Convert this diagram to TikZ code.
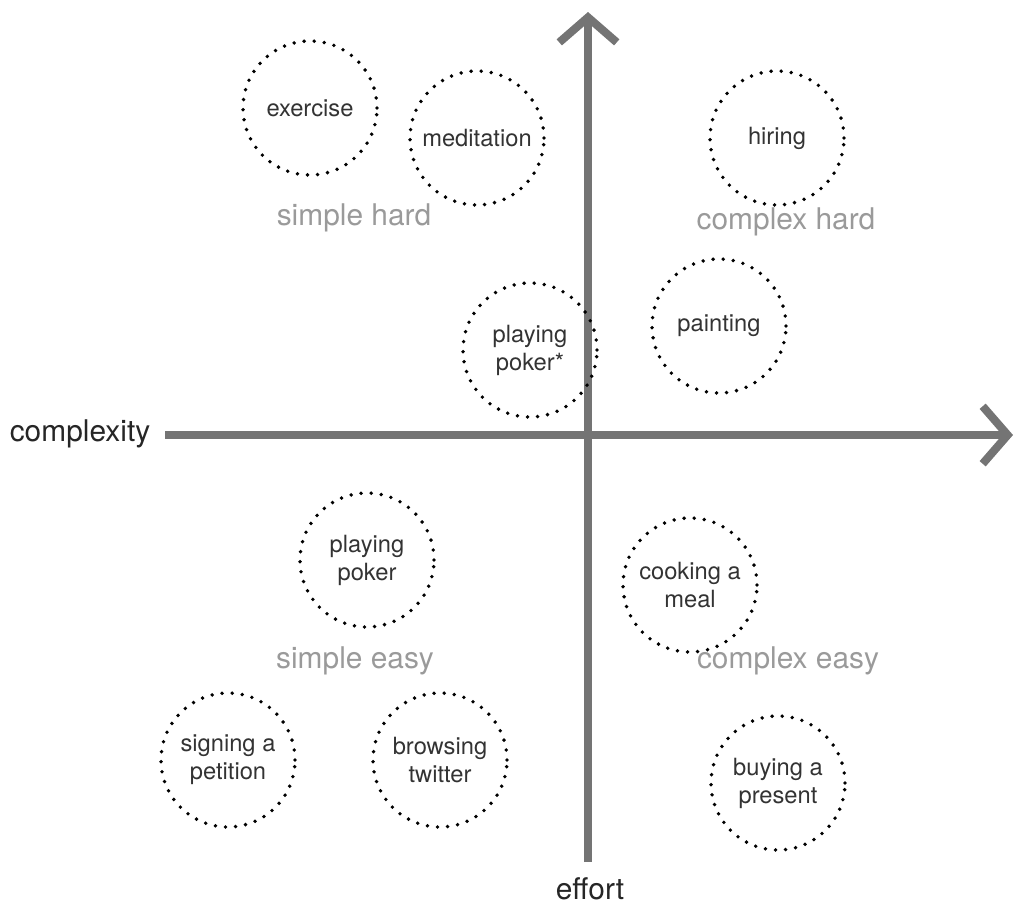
\documentclass[tikz,border=0pt]{standalone}
\usepackage{fontspec}
\setmainfont{TeX Gyre Heros}
\usetikzlibrary{arrows.meta}

\definecolor{axisgray}{HTML}{747474}
\definecolor{labelgray}{HTML}{9A9A9A}
\definecolor{textdark}{HTML}{333333}

\tikzset{
  task/.style={circle, minimum size=2.68cm, align=center, inner sep=0pt,
    font=\fontsize{13.5}{16}\selectfont, text=textdark,
    draw=black, line width=2.2pt, line cap=round, dash pattern=on 0pt off 5.75pt},
  quadrant/.style={font=\fontsize{17}{20}\selectfont, text=labelgray},
  axislabel/.style={font=\fontsize{17}{20}\selectfont, text=black!85},
  axisline/.style={draw=axisgray, line width=4.6pt,
    -{Straight Barb[length=5mm, width=11.5mm, line width=4.6pt]}}
}

\begin{document}
\begin{tikzpicture}[x=0.02cm, y=-0.02cm]
    \useasboundingbox (0,0) rectangle (1027,910);

    % ---------- axes ----------
    \coordinate (hstart) at (165,435);
    \coordinate (hend) at (1013,435);
    \coordinate (vstart) at (588,862);
    \coordinate (vend) at (588,12);
    \draw[axisline] (hstart) -- (hend);
    \draw[axisline] (vstart) -- (vend);

    \node[axislabel] (complexity) at (80,434) {complexity};
    \node[axislabel] (effort) at (590,889) {effort};

    % ---------- quadrant names ----------
    \node[quadrant] (simplehard) at (354,218) {simple hard};
    \node[quadrant] (complexhard) at (786,222) {complex hard};
    \node[quadrant] (simpleeasy) at (355,661) {simple easy};
    \node[quadrant] (complexeasy) at (788,661) {complex easy};

    % ---------- upper half ----------
    \node[task] (exercise) at (310,108) {exercise};
    \node[task] (meditation) at (477,138) {meditation};
    \node[task] (hiring) at (777,138) {hiring};
    \node[task] (painting) at (719,326) {painting};
    \node[task] (pokerstar) at (530,350) {playing\\poker*};

    % ---------- lower half ----------
    \node[task] (poker) at (367,560) {playing\\poker};
    \node[task] (cooking) at (690,585) {cooking a\\meal};
    \node[task] (petition) at (228,760) {signing a\\petition};
    \node[task] (twitter) at (440,760) {browsing\\twitter};
    \node[task] (present) at (778,783) {buying a\\present};
\end{tikzpicture}
\end{document}
